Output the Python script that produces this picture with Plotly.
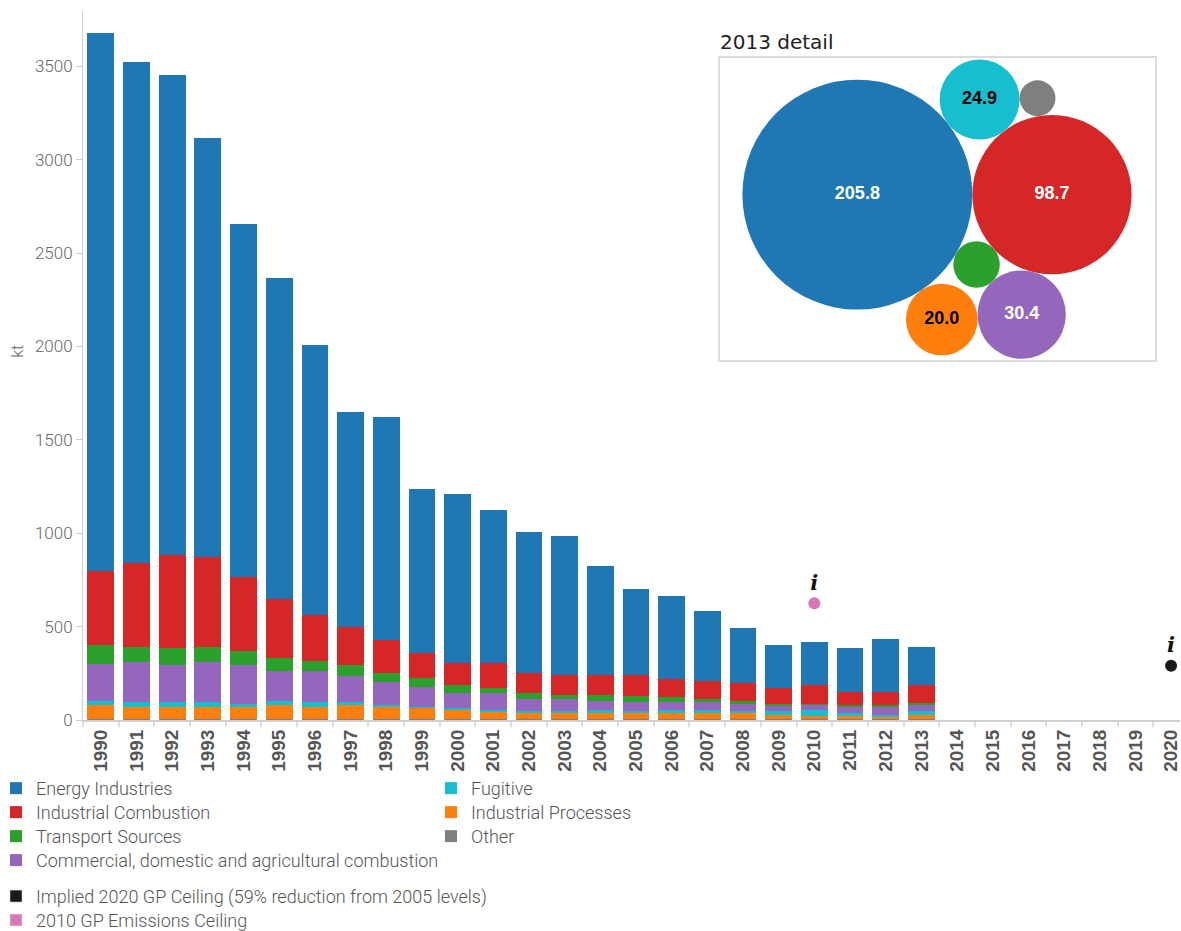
import math
import plotly.graph_objects as go

# ---------------- data ----------------
years = [str(y) for y in range(1990, 2021)]
data_years = [str(y) for y in range(1990, 2014)]

energy = [2880, 2684, 2570, 2243, 1893, 1722, 1448, 1150, 1192, 876, 907, 821,
          753, 746, 587, 464, 444, 375, 293, 230, 235, 236, 284, 205.8]
ind_comb = [401, 448, 497, 482, 392, 312, 243, 203, 177, 134, 119, 135,
            112, 104, 104, 114, 100, 96, 93, 81, 97, 73, 74, 98.7]
transport = [97, 85, 91, 85, 80, 74, 58, 59, 48, 48, 38, 27,
             27, 26, 32, 27, 23, 16, 16, 10, 7, 7, 11, 8.4]
commercial = [198, 209, 198, 214, 204, 156, 166, 139, 123, 107, 85, 91,
              69, 64, 53, 53, 48, 48, 42, 32, 30, 32, 38, 30.4]
fugitive = [25, 27, 27, 25, 16, 25, 22, 20, 11, 5, 11, 5,
            6, 6, 11, 6, 11, 11, 11, 17, 32, 21, 14, 24.9]
ind_proc = [73, 66, 66, 63, 66, 73, 66, 73, 66, 61, 45, 40,
            34, 34, 34, 34, 34, 34, 29, 23, 15, 15, 11, 20.0]
other = [6, 6, 6, 6, 6, 6, 6, 6, 6, 6, 6, 6,
         6, 6, 6, 6, 6, 6, 6, 6, 4, 4, 4, 5.0]

ceiling_2010_year = "2010"
ceiling_2010 = 625
ceiling_2020_year = "2020"
ceiling_2020 = 290

y_ticks = [0, 500, 1000, 1500, 2000, 2500, 3000, 3500]

NAME_2020 = "Implied 2020 GP Ceiling (59% reduction from 2005 levels)"
NAME_2010 = "2010 GP Emissions Ceiling"

# series: name, values, colour  (listed bottom of stack first)
series = [
    ("Other", other, "#7f7f7f"),
    ("Industrial Processes", ind_proc, "#ff7f0e"),
    ("Fugitive", fugitive, "#17becf"),
    ("Commercial, domestic and agricultural combustion", commercial, "#9467bd"),
    ("Transport Sources", transport, "#2ca02c"),
    ("Industrial Combustion", ind_comb, "#d62728"),
    ("Energy Industries", energy, "#1f77b4"),
]

# ---------------- geometry of the page (pixels) ----------------
W, H = 1181, 931
ML, MR, MT, MB = 83, 1, 11, 210.5
PW, PH = W - ML - MR, H - MT - MB


def px_x(x):
    return (x - ML) / PW


def px_y(y):
    return (H - MB - y) / PH


# legend slot for each entry: (swatch-left pixel x, row centre pixel y)
legend_slots = {
    "Energy Industries": (-4, 789),
    "Industrial Combustion": (-4, 813),
    "Transport Sources": (-4, 837),
    "Commercial, domestic and agricultural combustion": (-4, 861),
    NAME_2020: (-4, 897),
    NAME_2010: (-4, 921),
    "Fugitive": (431, 789),
    "Industrial Processes": (431, 813),
    "Other": (431, 837),
}
legend_ids = {n: ("legend" if i == 0 else "legend%d" % (i + 1)) for i, n in enumerate(legend_slots)}

fig = go.Figure()

pad = [None] * (len(years) - len(data_years))
for name, vals, col in series:
    fig.add_trace(go.Bar(
        x=years, y=list(vals) + pad, name=name, marker_color=col,
        marker_line_width=0, legend=legend_ids[name],
        hovertemplate="%{x}: %{y} kt<extra>" + name + "</extra>"))

# ceiling points with the little italic "i" info marks above them
icon_font = dict(family="DejaVu Serif", size=21, color="#111", weight="bold", style="italic")
fig.add_trace(go.Scatter(x=[ceiling_2010_year], y=[ceiling_2010], mode="markers+text",
                         marker=dict(color="#d977b5", size=12), showlegend=False,
                         text=["i"], textposition="top center", textfont=icon_font,
                         name=NAME_2010, cliponaxis=False))
fig.add_trace(go.Scatter(x=[ceiling_2020_year], y=[ceiling_2020], mode="markers+text",
                         marker=dict(color="#1a1a1a", size=12), showlegend=False,
                         text=["i"], textposition="top center", textfont=icon_font,
                         name=NAME_2020, cliponaxis=False))
# legend entries (square swatches) for the ceilings
fig.add_trace(go.Bar(x=[None], y=[None], name=NAME_2020, marker_color="#1a1a1a",
                     legend=legend_ids[NAME_2020]))
fig.add_trace(go.Bar(x=[None], y=[None], name=NAME_2010, marker_color="#d977b5",
                     legend=legend_ids[NAME_2010]))

# ---------------- 2013 detail bubble inset ----------------
idx = len(data_years) - 1
bub = {name: (vals[idx], col) for name, vals, col in series}
rad = {n: math.sqrt(v) for n, (v, c) in bub.items()}


def tangent_to(p, q, r, side):
    px_, py_, pr = p
    qx_, qy_, qr = q
    dx, dy = qx_ - px_, qy_ - py_
    d = math.hypot(dx, dy)
    d1, d2 = pr + r, qr + r
    a = (d1 * d1 - d2 * d2 + d * d) / (2 * d)
    h = math.sqrt(max(0.0, d1 * d1 - a * a))
    ux, uy = dx / d, dy / d
    return (px_ + a * ux - side * h * uy, py_ + a * uy + side * h * ux, r)


circ = {}
circ["Energy Industries"] = (0.0, 0.0, rad["Energy Industries"])
circ["Industrial Combustion"] = (rad["Energy Industries"] + rad["Industrial Combustion"], 0.0,
                                 rad["Industrial Combustion"])
pack_rules = [
    ("Transport Sources", "Energy Industries", "Industrial Combustion", 1),
    ("Fugitive", "Energy Industries", "Industrial Combustion", -1),
    ("Commercial, domestic and agricultural combustion", "Industrial Combustion", "Transport Sources", -1),
    ("Industrial Processes", "Energy Industries", "Commercial, domestic and agricultural combustion", 1),
    ("Other", "Fugitive", "Industrial Combustion", -1),
]
for n, p, q, s in pack_rules:
    circ[n] = tangent_to(circ[p], circ[q], rad[n], s)

x0b = min(c[0] - c[2] for c in circ.values())
x1b = max(c[0] + c[2] for c in circ.values())
y0b = min(c[1] - c[2] for c in circ.values())
y1b = max(c[1] + c[2] for c in circ.values())

box_l, box_r, box_t, box_b = 719.5, 1154.5, 58.5, 360
bw, bh = box_r - box_l, box_b - box_t
scale = min((bh - 2) / (y1b - y0b), (bw - 2) / (x1b - x0b))
cx, cy = (x0b + x1b) / 2, (y0b + y1b) / 2

names_b = list(circ.keys())
bx = [(circ[n][0] - cx) * scale for n in names_b]
by = [(circ[n][1] - cy) * scale for n in names_b]
bs = [2 * circ[n][2] * scale for n in names_b]
bc = [bub[n][1] for n in names_b]


def lum(hx):
    r, g, b = int(hx[1:3], 16), int(hx[3:5], 16), int(hx[5:7], 16)
    return 0.299 * r + 0.587 * g + 0.114 * b


btxt = ["%.1f" % bub[n][0] if circ[n][2] * scale > 30 else "" for n in names_b]
bfc = ["#000000" if lum(c) > 135 else "#ffffff" for c in bc]

fig.add_trace(go.Scatter(
    x=bx, y=by, mode="markers+text", xaxis="x2", yaxis="y2",
    marker=dict(size=bs, color=bc, line_width=0, opacity=1),
    text=btxt, textposition="middle center",
    textfont=dict(family="Liberation Sans", size=18, color=bfc, weight="bold"),
    hovertext=names_b, showlegend=False, cliponaxis=False))

fig.add_annotation(x=px_x(box_l), y=px_y(42), xref="paper", yref="paper",
                   text="2013 detail", showarrow=False, xanchor="left", yanchor="middle",
                   xshift=-2, font=dict(family="DejaVu Sans", size=20, color="#222", weight=500))

# y-axis title
fig.add_annotation(x=px_x(18), y=px_y(352), xref="paper", yref="paper", text="kt",
                   showarrow=False, textangle=-90, xanchor="center", yanchor="middle",
                   font=dict(family="Roboto", size=16, color="#666", weight=300))

# ---------------- layout ----------------
leg_font = dict(family="Roboto", size=18, color="#555", weight=300)
legends = {}
for n, (lx, ly) in legend_slots.items():
    legends[legend_ids[n]] = dict(x=px_x(lx), y=px_y(ly), xanchor="left", yanchor="middle",
                                  orientation="v", font=leg_font, bgcolor="rgba(0,0,0,0)",
                                  itemwidth=30, borderwidth=0)

fig.update_layout(
    width=W, height=H,
    margin=dict(l=ML, r=MR, t=MT, b=MB, autoexpand=False),
    paper_bgcolor="white", plot_bgcolor="white",
    barmode="stack", bargap=0.25,
    xaxis=dict(type="category", categoryorder="array", categoryarray=years,
               range=[-0.5, 30.25], tickangle=-90, tickson="boundaries",
               ticks="outside", ticklen=5, tickcolor="#ddd", tickwidth=2,
               showline=True, linecolor="#d0d0d0", linewidth=2,
               tickfont=dict(family="Liberation Sans", size=19, color="#555", weight="bold"),
               showgrid=False, zeroline=False),
    yaxis=dict(range=[0, 3796], tickvals=y_ticks, ticks="outside", ticklen=6,
               tickcolor="#ccc", showline=True, linecolor="#d0d0d0", linewidth=1,
               showgrid=False, zeroline=False,
               tickfont=dict(family="Roboto", size=17, color="#666", weight=300)),
    xaxis2=dict(domain=[px_x(box_l), px_x(box_r)], anchor="y2",
                range=[-bw / 2, bw / 2], showline=True, mirror=True,
                linecolor="#dcdcdc", linewidth=1.5, showgrid=False, zeroline=False,
                showticklabels=False, ticks=""),
    yaxis2=dict(domain=[px_y(box_b), px_y(box_t)], anchor="x2",
                range=[bh / 2, -bh / 2], showline=True, mirror=True,
                linecolor="#dcdcdc", linewidth=1.5, showgrid=False, zeroline=False,
                showticklabels=False, ticks=""),
    showlegend=True,
    **legends,
)

fig.write_html("out.html", config={"displayModeBar": False},
               post_script="document.body.style.margin='0px';document.body.style.overflow='hidden';")
